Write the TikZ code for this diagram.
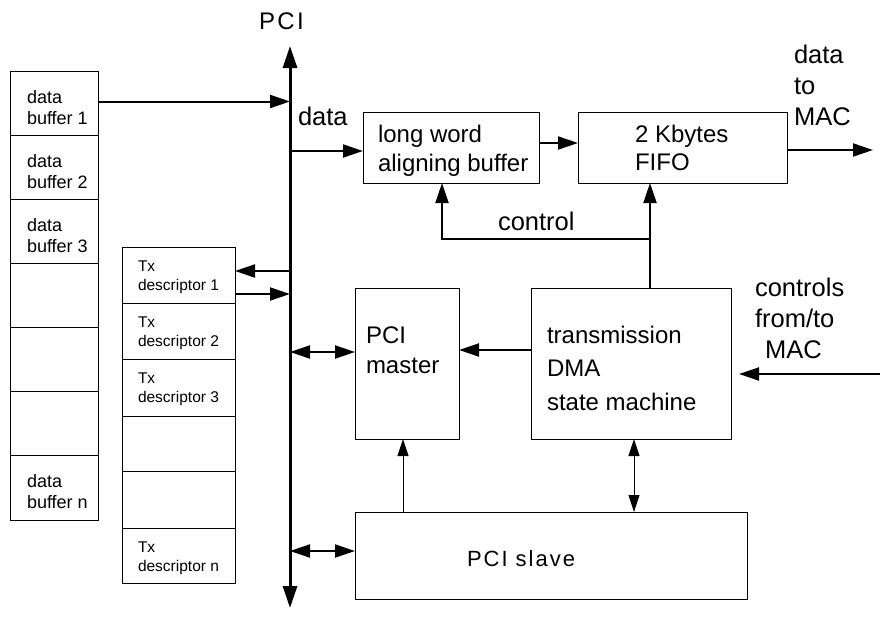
\documentclass[tikz,border=0pt]{standalone}
\usepackage{fontspec}
\setmainfont{Liberation Sans}
\usetikzlibrary{arrows.meta}
\begin{document}
\begin{tikzpicture}[x=1pt,y=-1pt,
  box/.style={draw, line width=1pt, inner sep=0pt, outer sep=0pt, anchor=north west},
  txt/.style={inner sep=0pt, outer sep=0pt, anchor=base west, align=left},
  dbfont/.style={font=\fontsize{18}{21}\selectfont},
  txfont/.style={font=\fontsize{15.5}{19}\selectfont},
  lblfont/.style={font=\fontsize{25.5}{31}\selectfont},
  tip/.tip={Triangle[length=20pt,width=13pt]},
  thintip/.tip={Triangle[length=17pt,width=11pt]},
  bustip/.tip={Triangle[length=22pt,width=14pt]},
  conn/.style={line width=2pt, -tip},
  dconn/.style={line width=2pt, tip-tip},
  thinconn/.style={line width=1pt, -thintip},
  dthinconn/.style={line width=1pt, thintip-thintip},
  busline/.style={line width=3pt, bustip-bustip}]
\useasboundingbox (0,0) rectangle (882,618);

% PCI bus
\coordinate (bustop) at (290,46);
\coordinate (busbot) at (290,608);
\draw[busline] (busbot) -- (bustop);
\node[txt, font=\fontsize{24}{28}\selectfont\addfontfeature{LetterSpace=10}] (pcilbl) at (259,30) {PCI};

% data buffers
\node[box, minimum width=88pt, minimum height=64pt] (db1) at (10,71) {};
\node[box, minimum width=88pt, minimum height=64pt] (db2) at (10,135) {};
\node[box, minimum width=88pt, minimum height=64pt] (db3) at (10,199) {};
\node[box, minimum width=88pt, minimum height=64pt] (db4) at (10,263) {};
\node[box, minimum width=88pt, minimum height=64pt] (db5) at (10,327) {};
\node[box, minimum width=88pt, minimum height=64pt] (db6) at (10,391) {};
\node[box, minimum width=88pt, minimum height=65pt] (dbn) at (10,455) {};
\node[txt, dbfont] (db1t) at (27,124) {data\\buffer 1};
\node[txt, dbfont] (db2t) at (27,188) {data\\buffer 2};
\node[txt, dbfont] (db3t) at (27,252) {data\\buffer 3};
\node[txt, dbfont] (dbnt) at (27,508) {data\\buffer n};

% Tx descriptors
\node[box, minimum width=113pt, minimum height=56pt] (tx1) at (122,247) {};
\node[box, minimum width=113pt, minimum height=56pt] (tx2) at (122,303) {};
\node[box, minimum width=113pt, minimum height=57pt] (tx3) at (122,359) {};
\node[box, minimum width=113pt, minimum height=55pt] (tx4) at (122,416) {};
\node[box, minimum width=113pt, minimum height=57pt] (tx5) at (122,471) {};
\node[box, minimum width=113pt, minimum height=55pt] (txn) at (122,528) {};
\node[txt, txfont] (tx1t) at (138,290) {Tx\\descriptor 1};
\node[txt, txfont] (tx2t) at (138,346) {Tx\\descriptor 2};
\node[txt, txfont] (tx3t) at (138,402) {Tx\\descriptor 3};
\node[txt, txfont] (txnt) at (138,571) {Tx\\descriptor n};

% main blocks
\node[box, minimum width=176pt, minimum height=71pt] (lwb) at (363,112) {};
\node[txt, font=\fontsize{24}{29}\selectfont] (lwbt) at (378,171) {long word\\aligning buffer};
\node[box, minimum width=209pt, minimum height=71pt] (fifo) at (578,112) {};
\node[txt, font=\fontsize{24}{28}\selectfont] (fifot) at (635,170) {2 Kbytes\\FIFO};
\node[box, minimum width=104pt, minimum height=151pt] (pm) at (355,288) {};
\node[txt, font=\fontsize{24}{30}\selectfont] (pmt) at (366,373) {PCI\\master};
\node[box, minimum width=200pt, minimum height=151pt] (dma) at (531,288) {};
\node[txt, font=\fontsize{24}{33.5}\selectfont] (dmat) at (547,410) {transmission\\DMA\\state machine};
\node[box, minimum width=392pt, minimum height=87pt] (slave) at (355,512) {};
\node[txt, font=\fontsize{22}{26}\selectfont\addfontfeature{LetterSpace=9}] (slavet) at (467,566) {PCI slave};

% labels
\node[txt, lblfont] (datalbl) at (298,125) {data};
\node[txt, lblfont] (ctrllbl) at (498,230) {control};
\node[txt, lblfont] (maclbl) at (794,125) {data\\to\\MAC};
\node[txt, lblfont] (ctrlmac) at (755,358) {controls\\from/to\\\hspace{10pt}MAC};

% connectors
\draw[conn] (db1.east) ++(0,-1.5) coordinate (db1o) -- (db1o -| bustop);
\coordinate (tx1a) at ([yshift=4pt]tx1.east);
\coordinate (tx1b) at ([yshift=-19pt]tx1.east);
\draw[conn] ([xshift=2pt]tx1a -| bustop) -- (tx1a);
\draw[conn] (tx1b) -- (tx1b -| bustop);
\coordinate (lwbin) at ([yshift=-3.5pt]lwb.west);
\draw[conn] (lwbin -| bustop) -- (lwbin);
\coordinate (lwbout) at ([yshift=4.5pt]lwb.east);
\draw[conn] (lwbout) -- (lwbout -| fifo.west);
\coordinate (fifoout) at ([yshift=-2.5pt]fifo.east);
\coordinate (macout) at (873,150);
\draw[conn] (fifoout) -- (macout);
\coordinate (cjoin) at (650,239);
\draw[conn] (dma.north -| cjoin) -- (fifo.south -| cjoin);
\draw[conn] (cjoin) -| ([xshift=-9pt]lwb.south);
\coordinate (dmaout) at ([yshift=13.5pt]dma.west);
\draw[conn] (dmaout) -- (dmaout -| pm.east);
\coordinate (pmin) at ([yshift=11.5pt]pm.west);
\draw[dconn] (pmin -| bustop) -- (pmin);
\coordinate (slin) at ([yshift=4.5pt]slave.west);
\draw[dconn] (slin -| bustop) -- (slin);
\coordinate (slup) at ([xshift=-4pt]pm.south);
\draw[thinconn] (slup |- slave.north) -- (slup);
\coordinate (dmadn) at ([xshift=3pt]dma.south);
\draw[dthinconn] (dmadn) -- (dmadn |- slave.north);
\coordinate (macin) at (880,374);
\draw[conn, shorten >=8pt] (macin) -- (macin -| dma.east);
\end{tikzpicture}
\end{document}
